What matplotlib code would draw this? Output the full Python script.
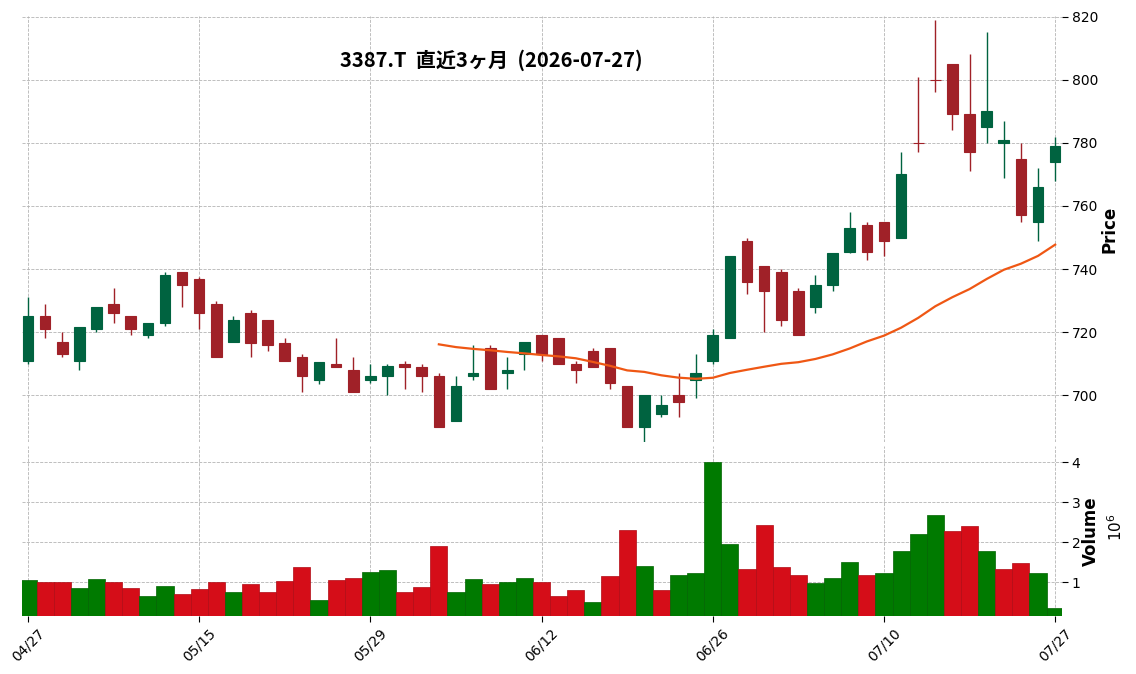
import matplotlib.pyplot as plt
import numpy as np
import pandas as pd

# OHLC (61 trading days)
opens = [711, 725, 717, 711, 721, 729, 725, 719, 723, 739,
         737, 729, 717, 726, 724, 716.5, 712, 705, 710, 708,
         705, 706, 710, 709, 706, 692, 706, 715, 707, 713,
         719, 718, 710, 714, 715, 703, 690, 694, 700, 705,
         711, 718, 749, 741, 739, 733, 728, 735, 745.5, 754,
         755, 750, 780, 800, 805, 789, 785, 780, 775, 755,
         774]
highs = [731, 729, 720, 721.5, 728, 734, 725, 723, 739, 739,
         737.5, 730, 725, 727, 724, 718, 713, 710.5, 718, 712,
         710, 710, 711, 710, 707, 706, 716, 716, 712, 717,
         719, 718, 711, 715, 715, 703, 700, 700, 707, 713,
         721, 744, 750, 741, 740, 734, 738, 745, 758, 755,
         755, 777, 801, 819, 805, 808, 815, 787, 780, 772,
         782]
lows = [710, 718, 712, 708, 720, 723, 719, 718, 722, 728,
        721, 712, 717, 712, 714, 711, 701, 703.5, 709, 701,
        704, 700, 702, 701, 690, 692, 705, 702, 702, 708,
        711, 710, 704, 709, 702, 690, 685, 693, 693, 699,
        710, 718, 732, 720, 722, 719, 726, 733, 745, 743,
        744, 750, 777, 796, 784, 771, 780, 769, 755, 749,
        768]
closes = [725, 721, 713, 721.5, 728, 726, 721, 723, 738, 735,
          726, 712, 724, 716.5, 716, 711, 706, 710.5, 709, 701,
          706, 709.3, 709, 706, 690, 703, 707, 702, 708, 717,
          713, 710, 708, 709, 704, 690, 700, 697, 698, 707,
          719, 744, 736, 733, 724, 719, 735, 745, 753, 745.5,
          749, 770, 780, 800, 789, 777, 790, 781, 757, 766,
          779]
volumes = [1.06, 0.99, 1.01, 0.86, 1.08, 1.01, 0.86, 0.66, 0.91, 0.71,
           0.83, 1.01, 0.74, 0.96, 0.76, 1.03, 1.38, 0.54, 1.06, 1.11,
           1.26, 1.31, 0.74, 0.88, 1.90, 0.76, 1.08, 0.96, 1.01, 1.11,
           1.01, 0.66, 0.81, 0.51, 1.16, 2.30, 1.40, 0.79, 1.18, 1.23,
           4.00, 1.95, 1.33, 2.42, 1.38, 1.18, 0.98, 1.11, 1.50, 1.18,
           1.23, 1.78, 2.20, 2.67, 2.27, 2.40, 1.78, 1.33, 1.48, 1.23,
           0.36]  # millions of shares
tick_labels = ["04/27", "05/15", "05/29", "06/12", "06/26", "07/10", "07/27"]
title = "3387.T  直近3ヶ月  (2026-07-27)"
mav_period = 25

UP, DOWN = "#006340", "#a02128"
VOL_UP, VOL_DOWN = "#007a00", "#d50d18"
MAV_COLOR = "#ef5714"
GRID = dict(color="#b4b4b4", linestyle="--", linewidth=0.6)

df = pd.DataFrame({"open": opens, "high": highs, "low": lows,
                   "close": closes, "volume": volumes})
x = np.arange(len(df))
mav = df["close"].rolling(mav_period).mean()

plt.rcParams["font.family"] = ["DejaVu Sans"]
fig = plt.figure(figsize=(11.36, 6.74), dpi=100)
left, width = 22 / 1136, 1040 / 1136
ax = fig.add_axes([left, 232 / 674, width, 426 / 674])
axv = fig.add_axes([left, 58 / 674, width, 170 / 674], sharex=ax)

# candles
up = df["close"] > df["open"]
ccol = np.where(up, UP, DOWN)
ax.vlines(x, df["low"], df["high"], colors=ccol, linewidth=1.0, zorder=2)
body_lo = np.minimum(df["open"], df["close"])
body_h = (df["close"] - df["open"]).abs()
ax.bar(x, body_h, bottom=body_lo, width=0.62, color=ccol,
       edgecolor=ccol, linewidth=0.8, zorder=3)
ax.plot(x, mav, color=MAV_COLOR, linewidth=1.6, zorder=4)

# volume colored by close vs previous close
vup = df["close"].diff().fillna(1) >= 0
vcol = np.where(vup, VOL_UP, VOL_DOWN)
vedge = np.where(vup, "#006400", "#b00a14")
axv.bar(x, df["volume"], width=1.0, color=vcol, edgecolor=vedge,
        linewidth=0.5, zorder=2)

ax.set_xlim(-0.35, len(df) - 0.6)
ax.set_ylim(685.2, 820.2)
axv.set_ylim(0.15, 4.4)

ax.set_yticks(np.arange(700, 821, 20))
axv.set_yticks([1, 2, 3, 4])
ticks = x[::10]
axv.set_xticks(ticks)
axv.set_xticklabels(tick_labels, rotation=45, ha="center", fontsize=10)
ax.tick_params(axis="x", which="both", length=0, labelbottom=False)

for a in (ax, axv):
    a.yaxis.tick_right()
    a.tick_params(axis="y", labelsize=10, length=4, width=0.8, pad=3)
    a.grid(True, **GRID)
    a.set_axisbelow(True)
    for s in a.spines.values():
        s.set_visible(False)
axv.tick_params(axis="x", length=4, width=0.8)

ax.yaxis.set_label_position("right")
ax.set_ylabel("Price", fontsize=12, fontweight="bold", labelpad=2)
axv.yaxis.set_label_position("right")
axv.set_ylabel("Volume", fontsize=12, fontweight="bold", labelpad=1)
fig.text(1116 / 1136, (674 - 527) / 674, r"$10^{6}$",
         rotation=90, ha="center", va="center", fontsize=11)

fig.text(491 / 1136, (674 - 60) / 674, title, ha="center", va="center",
         fontsize=14.5, fontweight="bold",
         family=["Noto Sans CJK JP", "DejaVu Sans"])

fig.savefig("out.png", dpi=100)
